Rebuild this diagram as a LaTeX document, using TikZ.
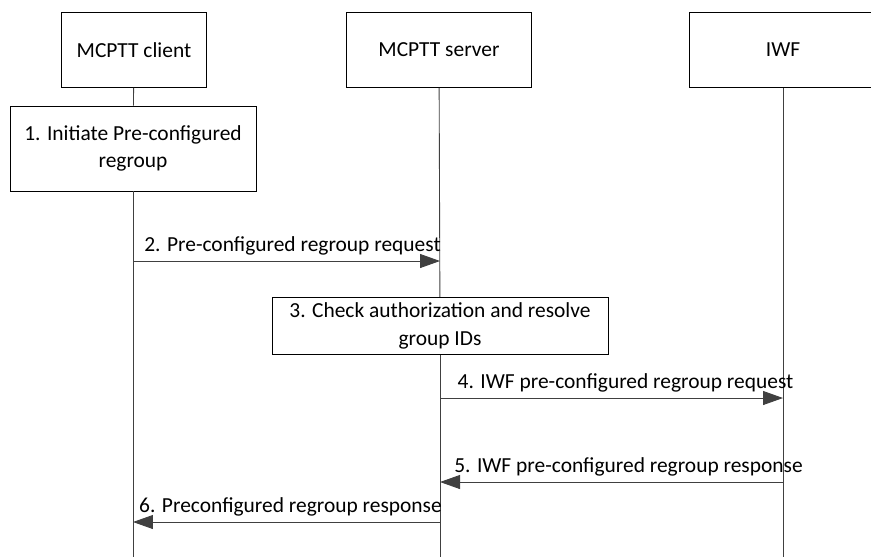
\documentclass[tikz,border=0pt]{standalone}
\usepackage{fontspec}
\setmainfont{Carlito}
\usepackage{xcolor}
\usetikzlibrary{arrows.meta}
\definecolor{line-grey}{HTML}{404040}

\begin{document}
\begin{tikzpicture}[x=0.02cm, y=-0.02cm,
    every node/.style={font=\fontsize{12.2}{15.5}\selectfont},
    entity/.style={draw, line width=0.5pt, minimum width=145*0.02cm, minimum height=75*0.02cm},
    actionbox/.style={draw, line width=0.5pt, align=center},
    lifeline/.style={line width=0.5pt, draw=line-grey},
    msg/.style={line width=0.5pt, draw=line-grey,
      -{Triangle[length=0.4cm, width=0.28cm, fill=line-grey]}},
    msglabel/.style={above, midway, inner sep=3pt}]
    % Diagram: three lifelines, one local action, one server action, four messages.
    % Coordinates in pixels (x right, y down), page 871 x 556
    %   client lifeline x=133, server x=440, IWF x=783
    %   message rows y=261, 398, 482, 522
    \useasboundingbox (0,0) rectangle (871,556);
    \node[entity] (client) at (134,50) {MCPTT client};
    \node[entity, minimum width=185*0.02cm] (server) at (439,50) {MCPTT server};
    \node[entity, minimum width=188*0.02cm] (iwf) at (783,50) {IWF};
    \node[actionbox, minimum width=246*0.02cm, minimum height=85*0.02cm] (init) at (133,148.5)
      {1. Initiate Pre-configured\\regroup};
    \node[actionbox, minimum width=336*0.02cm, minimum height=56*0.02cm] (check) at (440,326)
      {3. Check authorization and resolve\\group IDs};
    % lifelines
    \coordinate (clientend) at (133,560);
    \coordinate (serverend) at (440,560);
    \coordinate (iwfend) at (783,560);
    \draw[lifeline] (client) -- (init);
    \draw[lifeline] (init) -- (clientend);
    \draw[lifeline] (server) -- (check);
    \draw[lifeline] (check) -- (serverend);
    \draw[lifeline] (iwf) -- (iwfend);
    % message end points on the lifelines
    \coordinate (c2) at (133,261);
    \coordinate (s2) at (440,261);
    \coordinate (s4) at (440,398);
    \coordinate (i4) at (783,398);
    \coordinate (i5) at (783,482);
    \coordinate (s5) at (440,482);
    \coordinate (s6) at (440,522);
    \coordinate (c6) at (133,522);
    \draw[msg] (c2) -- (s2) node[msglabel, xshift=6*0.02cm] {2. Pre-configured regroup request};
    \draw[msg] (s4) -- (i4) node[msglabel, xshift=14*0.02cm] {4. IWF pre-configured regroup request};
    \draw[msg] (i5) -- (s5) node[msglabel, xshift=17*0.02cm] {5. IWF pre-configured regroup response};
    \draw[msg] (s6) -- (c6) node[msglabel, xshift=4*0.02cm] {6. Preconfigured regroup response};
  \end{tikzpicture}
\end{document}
